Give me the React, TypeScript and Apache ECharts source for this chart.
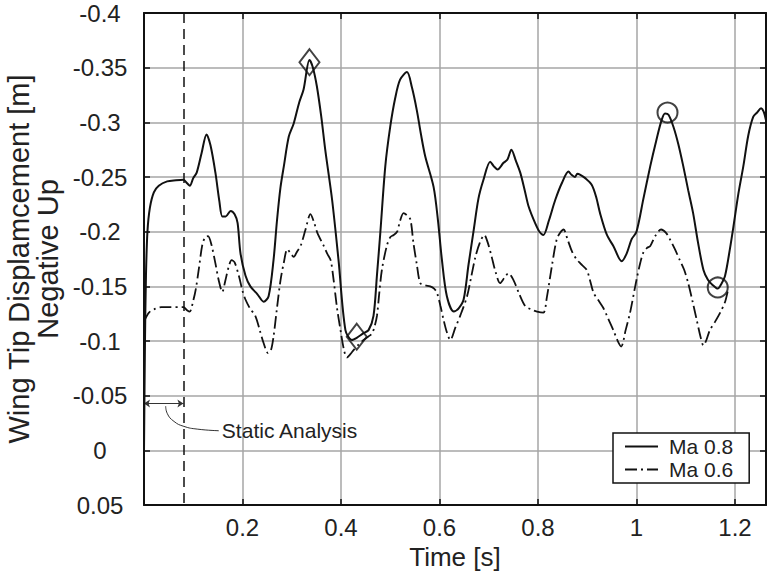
import React, { useEffect, useRef } from "react";
import * as echarts from "echarts";

// ---- data ----
const ma08: [number, number][] = [
  [0, 0], [0.002, -0.1], [0.004, -0.16], [0.007, -0.2], [0.012, -0.222], [0.02, -0.236], [0.03, -0.242],
  [0.047, -0.246], [0.065, -0.247], [0.08, -0.2475], [0.088, -0.244], [0.093, -0.242], [0.1, -0.249],
  [0.107, -0.254], [0.117, -0.272], [0.127, -0.289], [0.135, -0.279], [0.145, -0.254], [0.153, -0.228],
  [0.159, -0.214], [0.166, -0.214], [0.176, -0.219], [0.184, -0.216], [0.19, -0.208], [0.196, -0.18],
  [0.206, -0.16], [0.216, -0.15], [0.23, -0.143], [0.243, -0.136], [0.253, -0.141], [0.263, -0.174],
  [0.27, -0.21], [0.277, -0.24], [0.284, -0.26], [0.294, -0.287], [0.304, -0.299], [0.315, -0.318],
  [0.324, -0.33], [0.336, -0.357], [0.343, -0.35], [0.351, -0.333], [0.36, -0.305], [0.368, -0.275],
  [0.382, -0.229], [0.395, -0.174], [0.409, -0.11], [0.422, -0.101], [0.432, -0.103], [0.445, -0.107],
  [0.456, -0.11], [0.466, -0.123], [0.473, -0.16], [0.48, -0.2], [0.49, -0.26], [0.5, -0.296],
  [0.51, -0.322], [0.52, -0.339], [0.534, -0.346], [0.544, -0.332], [0.554, -0.311], [0.562, -0.29],
  [0.571, -0.269], [0.588, -0.241], [0.597, -0.21], [0.605, -0.174], [0.615, -0.141], [0.629, -0.127],
  [0.639, -0.13], [0.649, -0.138], [0.659, -0.17], [0.669, -0.2], [0.679, -0.23], [0.689, -0.247],
  [0.703, -0.264], [0.71, -0.26], [0.718, -0.257], [0.73, -0.263], [0.738, -0.266], [0.746, -0.275],
  [0.755, -0.265], [0.764, -0.254], [0.773, -0.238], [0.781, -0.223], [0.794, -0.208], [0.803, -0.2],
  [0.811, -0.197], [0.822, -0.21], [0.835, -0.229], [0.849, -0.245], [0.862, -0.255], [0.868, -0.252],
  [0.875, -0.25], [0.88, -0.253], [0.886, -0.252], [0.896, -0.249], [0.909, -0.243], [0.918, -0.232],
  [0.926, -0.217], [0.94, -0.197], [0.953, -0.187], [0.97, -0.173], [0.98, -0.18], [0.99, -0.193],
  [1.0, -0.2], [1.014, -0.23], [1.028, -0.26], [1.04, -0.283], [1.051, -0.302], [1.058, -0.308],
  [1.065, -0.307], [1.075, -0.296], [1.085, -0.28], [1.095, -0.26], [1.105, -0.238], [1.115, -0.217],
  [1.125, -0.19], [1.136, -0.165], [1.145, -0.156], [1.153, -0.152], [1.165, -0.148], [1.172, -0.152],
  [1.18, -0.16], [1.19, -0.185], [1.197, -0.205], [1.207, -0.235], [1.217, -0.26], [1.227, -0.288],
  [1.237, -0.305], [1.245, -0.309], [1.253, -0.313], [1.258, -0.31], [1.263, -0.302],
];

const ma06: [number, number][] = [
  [0, -0.118], [0.01, -0.126], [0.02, -0.129], [0.035, -0.131], [0.047, -0.131], [0.08, -0.131],
  [0.088, -0.128], [0.093, -0.127], [0.1, -0.137], [0.105, -0.147], [0.112, -0.168], [0.118, -0.187],
  [0.124, -0.195], [0.13, -0.196], [0.137, -0.188], [0.145, -0.171], [0.152, -0.155], [0.159, -0.145],
  [0.165, -0.155], [0.172, -0.168], [0.178, -0.174], [0.184, -0.172], [0.193, -0.159], [0.2, -0.146],
  [0.206, -0.138], [0.215, -0.13], [0.226, -0.123], [0.235, -0.11], [0.243, -0.098], [0.252, -0.089],
  [0.258, -0.092], [0.263, -0.104], [0.27, -0.13], [0.277, -0.155], [0.284, -0.172], [0.291, -0.184],
  [0.298, -0.18], [0.304, -0.177], [0.311, -0.182], [0.318, -0.187], [0.328, -0.202], [0.338, -0.216],
  [0.345, -0.209], [0.352, -0.199], [0.365, -0.187], [0.372, -0.18], [0.379, -0.174], [0.385, -0.156],
  [0.392, -0.13], [0.399, -0.11], [0.406, -0.092], [0.412, -0.085], [0.419, -0.088], [0.426, -0.092],
  [0.436, -0.097], [0.446, -0.101], [0.455, -0.104], [0.463, -0.107], [0.468, -0.113], [0.473, -0.123],
  [0.478, -0.145], [0.483, -0.165], [0.493, -0.187], [0.5, -0.195], [0.507, -0.197], [0.514, -0.2],
  [0.52, -0.21], [0.527, -0.217], [0.534, -0.215], [0.541, -0.211], [0.547, -0.19], [0.554, -0.17],
  [0.561, -0.153], [0.571, -0.151], [0.581, -0.15], [0.589, -0.148], [0.595, -0.144], [0.602, -0.132],
  [0.608, -0.12], [0.615, -0.108], [0.622, -0.101], [0.632, -0.112], [0.642, -0.123], [0.656, -0.141],
  [0.665, -0.16], [0.673, -0.177], [0.682, -0.19], [0.691, -0.197], [0.698, -0.19], [0.706, -0.177],
  [0.714, -0.163], [0.723, -0.153], [0.732, -0.158], [0.74, -0.162], [0.75, -0.156], [0.762, -0.143],
  [0.774, -0.132], [0.786, -0.129], [0.798, -0.127], [0.811, -0.126], [0.818, -0.14], [0.828, -0.168],
  [0.838, -0.193], [0.845, -0.199], [0.852, -0.202], [0.86, -0.193], [0.869, -0.182], [0.878, -0.175],
  [0.886, -0.171], [0.899, -0.165], [0.906, -0.155], [0.913, -0.144], [0.923, -0.137], [0.933, -0.13],
  [0.943, -0.12], [0.953, -0.11], [0.962, -0.1], [0.969, -0.095], [0.978, -0.11], [0.987, -0.126],
  [1.0, -0.156], [1.008, -0.172], [1.014, -0.181], [1.021, -0.185], [1.028, -0.187], [1.038, -0.196],
  [1.05, -0.202], [1.06, -0.199], [1.068, -0.193], [1.078, -0.184], [1.088, -0.174], [1.097, -0.165],
  [1.105, -0.153], [1.114, -0.136], [1.122, -0.12], [1.13, -0.104], [1.136, -0.096], [1.142, -0.101],
  [1.149, -0.11], [1.16, -0.118], [1.17, -0.126], [1.18, -0.136], [1.186, -0.147],
];

const diamondMarks: [number, number][] = [[0.336, -0.355], [0.432, -0.104]];
const circleMarks: [number, number][] = [[1.063, -0.309], [1.165, -0.149]];

const staticEnd = 0.08;
const staticArrowY = -0.043;
const staticLeader: [number, number][] = [
  [0.044, -0.0405], [0.047, -0.034], [0.061, -0.0265], [0.081, -0.022], [0.108, -0.0195], [0.152, -0.018],
];

const xTickLabels = ["", "0.2", "0.4", "0.6", "0.8", "1", "1.2", ""];
const yTickLabels = ["-0.4", "-0.35", "-0.3", "-0.25", "-0.2", "-0.15", "-0.1", "-0.05", "0", "0.05"];

const FONT = "'Liberation Sans', Arial, Helvetica, sans-serif";
const INK = "#111";
const TXT = "#222";

export default function App() {
  const ref = useRef<HTMLDivElement>(null);
  useEffect(() => {
    if (!ref.current) return;
    const chart = echarts.init(ref.current, undefined, { renderer: "svg" });
    const axisBase = {
      axisLine: { show: true, onZero: false, lineStyle: { color: INK, width: 2 } },
      axisTick: { show: true, inside: true, length: 6, lineStyle: { color: INK, width: 1.5 } },
    };
    chart.setOption({
      animation: false,
      backgroundColor: "#fff",
      grid: { left: 144, top: 13, right: 1, bottom: 69, containLabel: false },
      xAxis: [
        {
          type: "value", min: 0, max: 1.263, interval: 0.2, position: "bottom",
          ...axisBase,
          splitLine: { show: true, lineStyle: { color: "#a6a6a6", width: 1.5 } },
          axisLabel: {
            margin: 10, fontSize: 24, color: TXT, fontFamily: FONT, showMaxLabel: false,
            formatter: (_v: number, i: number) => xTickLabels[i] ?? "",
          },
          name: "Time [s]", nameLocation: "middle", nameGap: 38,
          nameTextStyle: { fontSize: 26, color: TXT, fontFamily: FONT },
        },
        {
          type: "value", min: 0, max: 1.263, interval: 0.2, position: "top",
          ...axisBase, splitLine: { show: false }, axisLabel: { show: false },
        },
      ],
      yAxis: [
        {
          type: "value", min: -0.4, max: 0.05, interval: 0.05, inverse: true, position: "left",
          ...axisBase,
          splitLine: { show: true, lineStyle: { color: "#a6a6a6", width: 1.5 } },
          axisLabel: {
            margin: 44, align: "center", fontSize: 24, color: TXT, fontFamily: FONT,
            formatter: (_v: number, i: number) => yTickLabels[i] ?? "",
          },
        },
        {
          type: "value", min: -0.4, max: 0.05, interval: 0.05, inverse: true, position: "right",
          ...axisBase, splitLine: { show: false }, axisLabel: { show: false },
        },
      ],
      legend: {
        data: ["Ma 0.8", "Ma 0.6"],
        orient: "vertical", left: 613, top: 433,
        padding: [3, 16, 3, 11], itemGap: 2, itemWidth: 33, itemHeight: 14,
        backgroundColor: "#fff", borderColor: INK, borderWidth: 1.5, borderRadius: 0,
        itemStyle: { opacity: 0 },
        textStyle: { fontSize: 21, color: TXT, fontFamily: FONT, padding: [0, 0, 0, 6] },
      },
      graphic: [
        {
          type: "text", x: 33, y: 259, rotation: Math.PI / 2,
          style: {
            text: "Wing Tip Displamcement [m]\nNegative Up", fill: TXT, font: `29px ${FONT}`,
            align: "center", verticalAlign: "middle", lineHeight: 29,
          },
        },
      ],
      series: [
        {
          name: "Ma 0.8", type: "line", data: ma08, symbol: "none", smooth: 0.3,
          lineStyle: { color: INK, width: 2 }, itemStyle: { color: INK }, z: 5,
        },
        {
          name: "Ma 0.6", type: "line", data: ma06, symbol: "none", smooth: 0.3,
          lineStyle: { color: INK, width: 1.8, type: [12, 4, 2, 4] }, itemStyle: { color: INK }, z: 4,
        },
        {
          name: "peaks", type: "scatter", data: diamondMarks, symbol: "diamond", symbolSize: [20, 26],
          itemStyle: { color: "transparent", borderColor: INK, borderWidth: 2 }, z: 6, silent: true,
        },
        {
          name: "circles", type: "scatter", data: circleMarks, symbol: "circle", symbolSize: 20,
          itemStyle: { color: "transparent", borderColor: INK, borderWidth: 2 }, z: 6, silent: true,
        },
        {
          name: "static", type: "line", data: staticLeader, symbol: "none", smooth: 0.5, silent: true,
          lineStyle: { color: "#333", width: 1 }, z: 3,
          endLabel: {
            show: true, formatter: "Static Analysis", fontSize: 21, color: TXT, fontFamily: FONT, distance: 3,
          },
          markLine: {
            silent: true, animation: false,
            label: { show: false },
            data: [
              [
                { coord: [0, staticArrowY], symbol: "arrow", symbolSize: 6, lineStyle: { color: "#333", width: 1, type: "solid" } },
                { coord: [staticEnd, staticArrowY], symbol: "arrow", symbolSize: 6 },
              ],
              {
                xAxis: staticEnd, symbol: "none",
                lineStyle: { color: INK, width: 1.5, type: [10, 6] },
              },
            ],
            symbol: ["none", "none"],
          },
        },
      ],
    });
    return () => chart.dispose();
  }, []);
  return <div ref={ref} style={{ position: "fixed", left: 0, top: 0, width: 767, height: 575 }} />;
}
